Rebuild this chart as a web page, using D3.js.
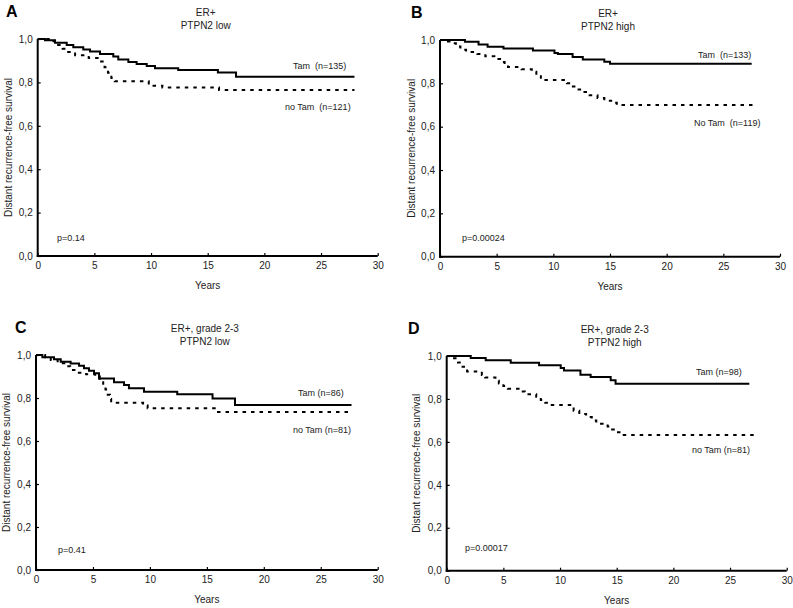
<!DOCTYPE html>
<html>
<head>
<meta charset="utf-8">
<script src="https://cdn.jsdelivr.net/npm/d3@7"></script>
<style>
  html, body { margin: 0; padding: 0; background: #fff; }
  svg { display: block; font-family: "Liberation Sans", Arial, sans-serif; }
  text { white-space: pre; }
</style>
</head>
<body>
<svg id="chart" width="793" height="608"></svg>
<script>
// ---------- DATA ----------
const xTicks = [0, 5, 10, 15, 20, 25, 30];
const yTicks = [0, 0.2, 0.4, 0.6, 0.8, 1.0];

// Panel A: ER+, PTPN2 low
const A_tam = [[0,1],[0.64,0.994],[1.53,0.983],[2.56,0.972],[3.14,0.962],[4.02,0.952],[4.62,0.942],[5.5,0.931],[6.67,0.919],[7.11,0.906],[8.0,0.894],[8.73,0.885],[9.62,0.876],[10.35,0.865],[12.4,0.857],[15.9,0.846],[17.5,0.826],[27.95,0.826]];
const A_notam = [[0,1],[1.2,0.99],[1.7,0.972],[2.2,0.955],[2.6,0.94],[3.3,0.925],[4.5,0.912],[5.5,0.896],[5.9,0.87],[6.2,0.845],[6.5,0.82],[6.8,0.805],[9.8,0.785],[11.0,0.777],[16.0,0.765],[27.95,0.765]];

// Panel B: ER+, PTPN2 high
const B_tam = [[0,1],[2.2,0.992],[3.4,0.979],[4.2,0.969],[5.6,0.961],[8.2,0.952],[10.1,0.94],[10.4,0.935],[11.7,0.922],[12.6,0.91],[14.5,0.9],[15.0,0.89],[27.5,0.89]];
const B_notam = [[0,1],[0.6,0.993],[1.0,0.985],[1.4,0.97],[1.8,0.955],[2.3,0.945],[3.3,0.935],[4.0,0.925],[4.8,0.912],[5.3,0.898],[5.7,0.885],[6.0,0.875],[7.2,0.865],[8.1,0.853],[8.5,0.84],[8.9,0.826],[9.1,0.815],[11.2,0.8],[11.6,0.785],[12.1,0.772],[12.6,0.76],[13.2,0.745],[13.9,0.732],[14.5,0.72],[15.1,0.71],[15.6,0.70],[27.6,0.70]];

// Panel C: ER+, grade 2-3, PTPN2 low
const C_tam = [[0,1],[0.56,0.989],[1.58,0.98],[2.17,0.969],[3.04,0.961],[3.78,0.95],[4.21,0.938],[4.65,0.927],[5.09,0.915],[5.53,0.891],[6.85,0.873],[7.73,0.86],[8.16,0.845],[9.48,0.829],[12.4,0.817],[15.5,0.798],[17.47,0.767],[27.7,0.767]];
const C_notam = [[0,1],[0.8,0.99],[1.3,0.977],[1.9,0.962],[2.6,0.948],[3.0,0.93],[3.6,0.918],[4.4,0.91],[5.2,0.9],[5.6,0.88],[5.9,0.86],[6.1,0.84],[6.3,0.815],[6.5,0.795],[6.6,0.778],[9.4,0.765],[9.8,0.752],[15.8,0.735],[27.7,0.735]];

// Panel D: ER+, grade 2-3, PTPN2 high
const D_tam = [[0,1],[2.12,0.991],[3.44,0.98],[5.65,0.969],[8.15,0.957],[10.06,0.944],[10.35,0.933],[11.8,0.913],[12.7,0.902],[14.47,0.887],[14.9,0.871],[26.7,0.871]];
const D_notam = [[0,1],[0.5,0.99],[1.0,0.97],[1.4,0.95],[1.8,0.928],[3.1,0.912],[3.4,0.9],[4.3,0.885],[4.6,0.872],[5.0,0.86],[5.4,0.848],[6.5,0.835],[6.9,0.822],[7.9,0.81],[8.3,0.795],[8.7,0.782],[9.0,0.772],[10.9,0.76],[11.2,0.745],[11.7,0.73],[12.3,0.716],[12.8,0.7],[13.2,0.685],[14.2,0.672],[14.6,0.658],[15.0,0.645],[15.5,0.632],[27.4,0.632]];

const panelLetters = ["A", "B", "C", "D"];
const panelTitles = [["ER+", "PTPN2 low"], ["ER+", "PTPN2 high"], ["ER+, grade 2-3", "PTPN2 low"], ["ER+, grade 2-3", "PTPN2 high"]];
const tamLabels = ["Tam\u00a0\u00a0(n=135)", "Tam\u00a0\u00a0(n=133)", "Tam (n=86)", "Tam (n=98)"];
const noTamLabels = ["no Tam\u00a0\u00a0(n=121)", "No Tam\u00a0\u00a0(n=119)", "no Tam (n=81)", "no Tam (n=81)"];
const pValues = ["p=0.14", "p=0.00024", "p=0.41", "p=0.00017"];
const seriesTam = [A_tam, B_tam, C_tam, D_tam];
const seriesNoTam = [A_notam, B_notam, C_notam, D_notam];

// ---------- LAYOUT ----------
const layout = [
  {l: 37.7, r: 377.7, t: 39,  b: 256,   letterX: 6,   ytitleX: 8,   tamXY: [293, 69],  noXY: [285, 110], pXY: [57, 241]},
  {l: 440,  r: 780,   t: 40,  b: 256.7, letterX: 411, ytitleX: 411, tamXY: [698, 58],  noXY: [694, 126], pXY: [462, 241]},
  {l: 36,   r: 377.7, t: 355, b: 570,   letterX: 15,  ytitleX: 6,   tamXY: [298, 396], noXY: [293, 433], pXY: [58, 553]},
  {l: 446.7,r: 786.7, t: 356, b: 570.7, letterX: 408, ytitleX: 416, tamXY: [696, 375], noXY: [692, 453], pXY: [465, 551]}
];

const svg = d3.select("#chart");
const fmtY = d => d3.format(".1f")(d).replace(".", ",");

layout.forEach((L, i) => {
  const g = svg.append("g");
  const x = d3.scaleLinear().domain([0, 30]).range([L.l, L.r]);
  const y = d3.scaleLinear().domain([0, 1]).range([L.b, L.t]);

  // axes
  const xAxis = d3.axisBottom(x).tickValues(xTicks).tickSize(-3).tickPadding(6).tickSizeOuter(0);
  const yAxis = d3.axisLeft(y).tickValues(yTicks).tickSize(-3).tickPadding(5).tickFormat(fmtY).tickSizeOuter(0);
  const gx = g.append("g").attr("transform", `translate(0,${L.b})`).call(xAxis);
  const gy = g.append("g").attr("transform", `translate(${L.l},0)`).call(yAxis);
  [gx, gy].forEach(a => {
    a.select(".domain").attr("stroke", "#000").attr("stroke-width", 2);
    a.selectAll(".tick line").attr("stroke", "#000").attr("stroke-width", 1.2);
    a.selectAll(".tick text").attr("fill", "#222").attr("font-size", 10).attr("font-family", "Liberation Sans, Arial, sans-serif");
  });
  gx.select(".domain").attr("d", `M${L.l - 1},0H${L.r}`);
  gy.select(".domain").attr("d", `M0,${L.t}V${L.b + 1}`);

  // axis titles
  g.append("text").attr("x", (L.l + L.r) / 2).attr("y", L.b + 33)
    .attr("text-anchor", "middle").attr("font-size", 10).attr("fill", "#222").text("Years");
  g.append("text").attr("transform", `translate(${L.ytitleX + 3.5},${(L.t + L.b) / 2}) rotate(-90)`)
    .attr("text-anchor", "middle").attr("font-size", 10).attr("fill", "#222")
    .text("Distant recurrence-free survival");

  // panel letter & title
  g.append("text").attr("x", L.letterX).attr("y", L.t - 22).attr("font-size", 16).attr("font-weight", "bold")
    .attr("fill", "#000").text(panelLetters[i]);
  panelTitles[i].forEach((t, k) => {
    g.append("text").attr("x", (L.l + L.r) / 2 - 2).attr("y", L.t - 23 + k * 12.5)
      .attr("text-anchor", "middle").attr("font-size", 10).attr("fill", "#222").text(t);
  });

  // curves
  const line = d3.line().x(d => x(d[0])).y(d => y(d[1])).curve(d3.curveStepAfter);
  g.append("path").datum(seriesNoTam[i]).attr("d", line).attr("fill", "none")
    .attr("stroke", "#000").attr("stroke-width", 2).attr("stroke-dasharray", "3.5,5");
  g.append("path").datum(seriesTam[i]).attr("d", line).attr("fill", "none")
    .attr("stroke", "#000").attr("stroke-width", 2);

  // labels
  g.append("text").attr("x", L.tamXY[0]).attr("y", L.tamXY[1]).attr("font-size", 9).attr("fill", "#222").text(tamLabels[i]);
  g.append("text").attr("x", L.noXY[0]).attr("y", L.noXY[1]).attr("font-size", 9).attr("fill", "#222").text(noTamLabels[i]);
  g.append("text").attr("x", L.pXY[0]).attr("y", L.pXY[1]).attr("font-size", 9).attr("fill", "#222").text(pValues[i]);
});
</script>
</body>
</html>
